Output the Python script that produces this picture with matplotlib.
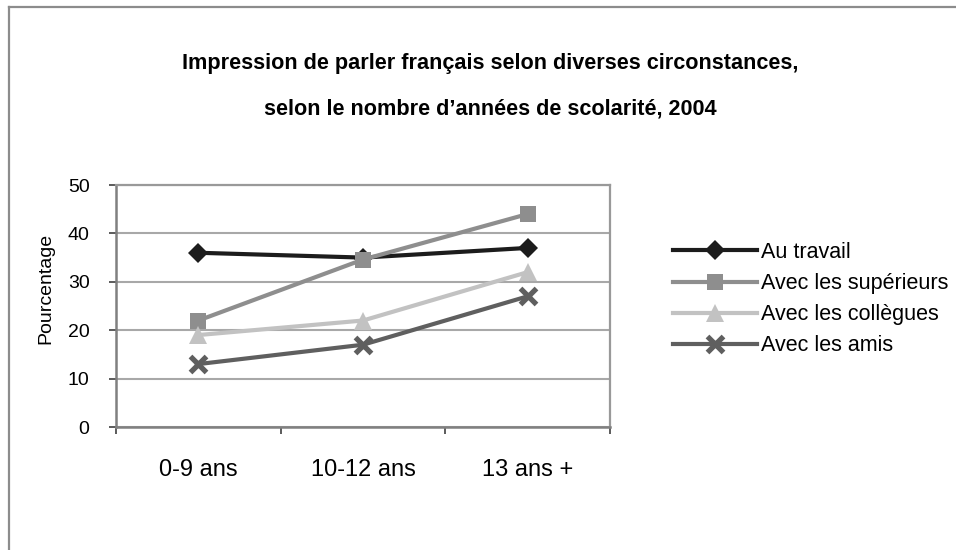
import matplotlib
matplotlib.use("Agg")
import matplotlib.pyplot as plt
from matplotlib import font_manager
from matplotlib.lines import Line2D

categories = ["0-9 ans", "10-12 ans", "13 ans +"]
au_travail = [36, 35, 37]
superieurs = [22, 34.6, 44]
collegues = [19, 22, 32]
amis = [13, 17, 27]
series_names = ["Au travail", "Avec les supérieurs", "Avec les collègues", "Avec les amis"]
yticks = [0, 10, 20, 30, 40, 50]
title1 = "Impression de parler français selon diverses circonstances,"
title2 = "selon le nombre d\u2019années de scolarité, 2004"

names = {f.name for f in font_manager.fontManager.ttflist}
base = "Liberation Sans" if "Liberation Sans" in names else "DejaVu Sans"
plt.rcParams["font.family"] = [base, "DejaVu Sans"]

W, H = 956, 550
fig = plt.figure(figsize=(W / 100, H / 100), dpi=100)

# outer frame (left and top visible)
fig.add_artist(Line2D([9 / W, 9 / W], [0, 1 - 7 / H], transform=fig.transFigure, color="#8c8c8c", lw=1.6))
fig.add_artist(Line2D([9 / W, 1], [1 - 7 / H, 1 - 7 / H], transform=fig.transFigure, color="#8c8c8c", lw=1.6))

L, R, T, B = 116, 610, 185, 427
ax = fig.add_axes([L / W, 1 - B / H, (R - L) / W, (B - T) / H])

x = list(range(len(categories)))
styles = [
    (au_travail, "#1c1c1c", "D", dict(ms=10.5, mew=0)),
    (superieurs, "#8e8e8e", "s", dict(ms=11.5, mew=0)),
    (collegues, "#c2c2c2", "^", dict(ms=13, mew=0)),
    (amis, "#5f5f5f", "x", dict(ms=11.5, mew=3.8)),
]
for (vals, col, mk, kw), name in zip(styles, series_names):
    ax.plot(x, vals, color=col, lw=3, marker=mk, markerfacecolor=col, markeredgecolor=col,
            label=name, zorder=3, **kw)

ax.set_xlim(-0.5, 2.5)
ax.set_ylim(0, 50)
ax.set_yticks(yticks)
ax.set_yticklabels([str(v) for v in yticks], fontsize=14)
ax.yaxis.grid(True, color="#a8a8a8", lw=1.5)
ax.set_axisbelow(True)
ax.set_xticks(x)
ax.set_xticklabels(categories, fontsize=17)
ax.set_xticks([-0.5, 0.5, 1.5, 2.5], minor=True)
ax.tick_params(axis="x", which="major", length=0, pad=23)
ax.tick_params(axis="x", which="minor", length=5, width=1.2, color="#404040", direction="out")
ax.tick_params(axis="y", length=5, width=1.2, color="#404040", direction="out", pad=14)

for s in ["left", "bottom"]:
    ax.spines[s].set_color("#808080")
    ax.spines[s].set_linewidth(1.8)
for s in ["top", "right"]:
    ax.spines[s].set_color("#999999")
    ax.spines[s].set_linewidth(1.6)

fig.text(46 / W, 1 - 288 / H, "Pourcentage", rotation=90, ha="center", va="center", fontsize=14)

fig.text(490 / W, 1 - 69 / H, title1, ha="center", va="baseline", fontsize=15.6, fontweight="bold")
fig.text(490 / W, 1 - 115 / H, title2, ha="center", va="baseline", fontsize=15.6, fontweight="bold")

leg = ax.legend(loc="upper left", bbox_to_anchor=(673 / W, 1 - 242 / H), bbox_transform=fig.transFigure,
                frameon=False, fontsize=15.5, handlelength=3.9, handletextpad=0.2,
                labelspacing=0.47, borderpad=0, borderaxespad=0)

fig.savefig("out.png", dpi=100)
